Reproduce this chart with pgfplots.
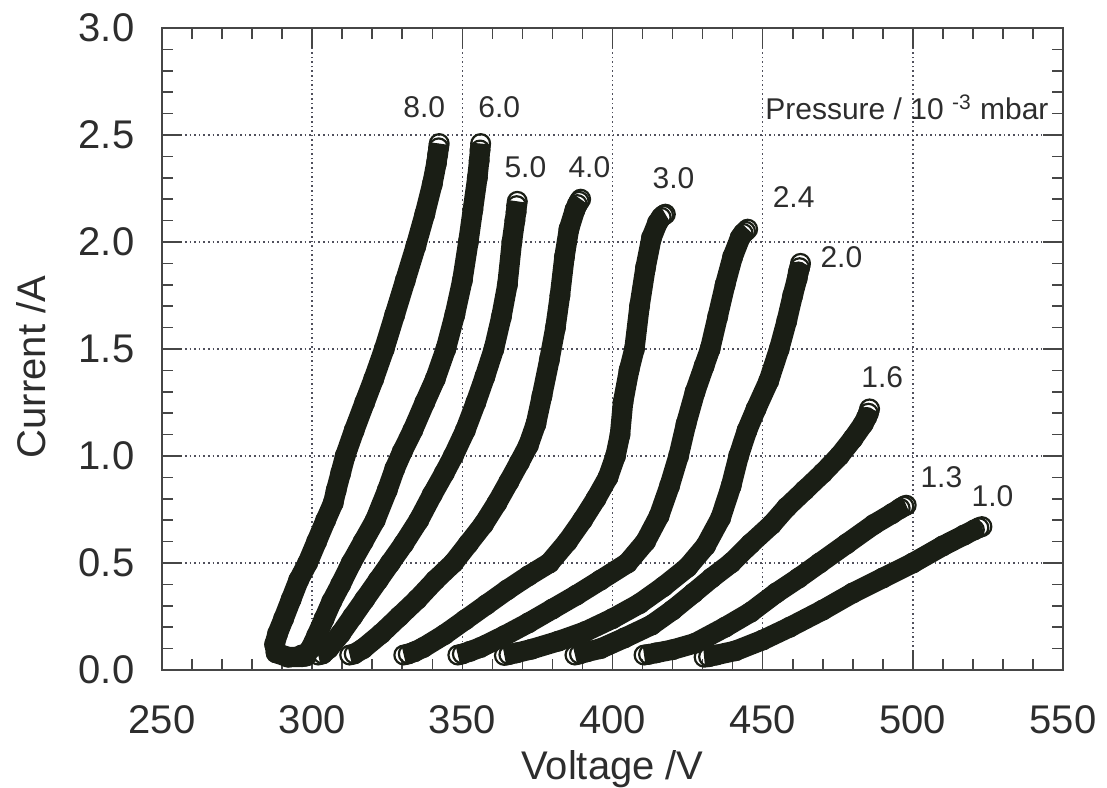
\documentclass[border=0pt]{standalone}
\usepackage{fontspec}
\setmainfont{Liberation Sans}
\usepackage{pgfplots}
\pgfplotsset{compat=1.18}

\definecolor{band}{RGB}{26,30,21}
\definecolor{txt}{RGB}{45,45,45}
\definecolor{axiscol}{RGB}{70,70,70}
\definecolor{gridc}{RGB}{80,80,92}

\tikzset{
  curve/.style={band, line width=10.2pt, line join=round,
    mark=o, mark size=4.7pt, mark options={line width=1.1pt, solid}},
  lab/.style={font=\fontsize{15}{18}\selectfont, text=txt},
}

\begin{document}
\begin{tikzpicture}
\begin{axis}[
  name=ax,
  scale only axis,
  width=450.5pt, height=321pt,
  xmin=250, xmax=550, ymin=0, ymax=3,
  xtick={250,300,...,550},
  ytick={0,0.5,...,3},
  minor x tick num=4, minor y tick num=4,
  tick align=inside, tick pos=both,
  major tick length=10pt, minor tick length=5.5pt,
  every tick/.style={axiscol, line width=0.8pt},
  axis line style={axiscol, line width=0.9pt},
  grid=major,
  major grid style={gridc, line width=0.8pt, dash pattern=on 0.8pt off 1.5pt},
  /pgf/number format/assume math mode=true,
  tick label style={font=\fontsize{20}{24}\selectfont, text=txt},
  xticklabel style={anchor=base, yshift=-31.5pt},
  yticklabel style={anchor=east, xshift=-10.3pt,
    /pgf/number format/fixed, /pgf/number format/fixed zerofill,
    /pgf/number format/precision=1},
  xlabel={Voltage /V}, ylabel={Current /A},
  every axis x label/.style={at={(axis description cs:0.5,-0.1713)}, anchor=base,
    font=\fontsize{20}{24}\selectfont, text=txt},
  every axis y label/.style={at={(axis description cs:-0.1454,0.472)}, rotate=90,
    anchor=center, font=\fontsize{20}{24}\selectfont, text=txt},
]

% 8.0e-3 mbar
\addplot[curve] coordinates {
 (298,0.065) (296.5,0.062) (292,0.06) (288,0.08) (287.5,0.12) (288.5,0.17) (290.5,0.24) (293,0.33) (295.5,0.42)
 (298.5,0.5) (301.5,0.6) (304.5,0.7) (307,0.78) (308,0.84) (309.5,0.92)
 (311,1.0) (314,1.12) (317.5,1.25) (320.5,1.36) (324,1.5) (327.5,1.66)
 (331,1.82) (334.5,1.98) (337.5,2.13) (340,2.27) (341.4,2.37) (341.8,2.41) (342.1,2.44) (342.3,2.46)};
% 6.0e-3 mbar
\addplot[curve] coordinates {
 (296.5,0.07) (298,0.075) (299.5,0.1) (301.5,0.16) (304,0.24) (306.5,0.32) (309.5,0.4)
 (313,0.5) (317,0.6) (321,0.7) (325,0.84) (327.5,0.94) (330,1.02)
 (333.5,1.12) (337.5,1.25) (341,1.36) (344.5,1.5) (347.5,1.66) (350,1.82)
 (352,2.0) (353.5,2.15) (355,2.3) (355.6,2.38) (355.9,2.43) (356.1,2.46)};
% 5.0e-3 mbar
\addplot[curve] coordinates {
 (302,0.07) (303.5,0.075) (305.5,0.1) (309.5,0.17) (313.5,0.25) (317.5,0.33) (322,0.42)
 (326,0.5) (330.5,0.59) (335.5,0.7) (340,0.82) (344,0.92) (347,1.0)
 (351,1.12) (354.5,1.25) (357.5,1.37) (360.5,1.5) (363,1.65) (365,1.8)
 (366.5,2.0) (367.5,2.1) (367.9,2.14) (368.1,2.17) (368.3,2.19)};
% 4.0e-3 mbar
\addplot[curve] coordinates {
 (312.5,0.07) (314,0.075) (317,0.1) (323,0.17) (329,0.25) (335,0.33) (341,0.42)
 (347,0.5) (352,0.59) (357,0.68) (361.5,0.78) (365.5,0.88) (369,0.97)
 (372,1.05) (374.5,1.15) (376.5,1.28) (379,1.45) (381,1.6) (382.5,1.75)
 (384,1.93) (385.5,2.06) (387.5,2.15) (388.3,2.175) (388.9,2.19) (389.4,2.2)};
% 3.0e-3 mbar
\addplot[curve] coordinates {
 (330.5,0.07) (332,0.075) (334,0.085) (337,0.105) (344,0.165) (351,0.235) (358,0.305) (365,0.375)
 (372,0.44) (379,0.5) (385,0.6) (390,0.7) (394.5,0.8) (398.5,0.9)
 (401,1.0) (402.5,1.1) (403.5,1.25) (405.5,1.4) (407.3,1.5) (409,1.7)
 (411,1.88) (413,2.02) (415,2.09) (416.2,2.115) (417,2.125) (417.6,2.13)};
% 2.4e-3 mbar
\addplot[curve] coordinates {
 (348.5,0.07) (350,0.075) (352.5,0.087) (356,0.105) (364,0.16) (372,0.22) (380,0.285) (388,0.35)
 (396,0.42) (405,0.5) (411,0.6) (415.5,0.72) (419,0.86) (422,1.0)
 (424.5,1.15) (427.5,1.3) (430.5,1.42) (432.5,1.5) (435,1.65) (437.5,1.8)
 (440,1.93) (442.5,2.02) (443.5,2.04) (444.3,2.05) (445,2.06)};
% 2.0e-3 mbar
\addplot[curve] coordinates {
 (364,0.068) (365.5,0.072) (368,0.08) (373,0.097) (382,0.135) (391,0.18) (400,0.24) (409,0.31)
 (417,0.39) (425,0.48) (431,0.58) (436,0.71) (439.5,0.86) (442,1.0)
 (444.8,1.12) (447.8,1.22) (452,1.35) (455.5,1.5) (458,1.63) (460,1.75)
 (461.5,1.83) (461.9,1.86) (462.3,1.88) (462.6,1.9)};
% 1.6e-3 mbar
\addplot[curve] coordinates {
 (387.5,0.07) (389,0.075) (391.5,0.085) (396,0.1) (404,0.15) (413,0.21) (420,0.28) (427,0.36)
 (433,0.43) (439.5,0.5) (446,0.59) (453,0.68) (458,0.76) (464,0.84)
 (470,0.92) (475.5,1.0) (480,1.08) (483.5,1.15) (484.6,1.18) (485.2,1.2) (485.6,1.22)};
% 1.3e-3 mbar
\addplot[curve] coordinates {
 (410.5,0.07) (412,0.073) (414.5,0.08) (420,0.095) (427.5,0.125) (437.5,0.2) (446,0.27) (454.5,0.36)
 (462,0.43) (469,0.5) (478,0.59) (487,0.68) (493,0.73) (495.8,0.755) (497,0.765) (497.8,0.77)};
% 1.0e-3 mbar
\addplot[curve] coordinates {
 (430.5,0.06) (432,0.062) (434.5,0.07) (441,0.09) (450,0.14) (459,0.2) (470,0.28) (480,0.36)
 (490,0.43) (500,0.5) (510,0.58) (517,0.63) (520.5,0.655) (522,0.665) (523,0.67)};

\node[lab] at (axis cs:337.3,2.63) {8.0};
\node[lab] at (axis cs:362.3,2.63) {6.0};
\node[lab] at (axis cs:371,2.35) {5.0};
\node[lab] at (axis cs:392.3,2.35) {4.0};
\node[lab] at (axis cs:420.3,2.30) {3.0};
\node[lab] at (axis cs:460.3,2.21) {2.4};
\node[lab] at (axis cs:476.2,1.93) {2.0};
\node[lab] at (axis cs:489.8,1.37) {1.6};
\node[lab] at (axis cs:509.5,0.90) {1.3};
\node[lab] at (axis cs:526.5,0.81) {1.0};
\node[lab, anchor=east, inner sep=0pt] at (axis cs:545.3,2.63)
  {Pressure / 10 \textsuperscript{-3} mbar};
\end{axis}
\pgfresetboundingbox
\path ([xshift=-81pt, yshift=-58.5pt]ax.south west)
  rectangle ([xshift=22pt, yshift=14pt]ax.north east);
\end{tikzpicture}
\end{document}
